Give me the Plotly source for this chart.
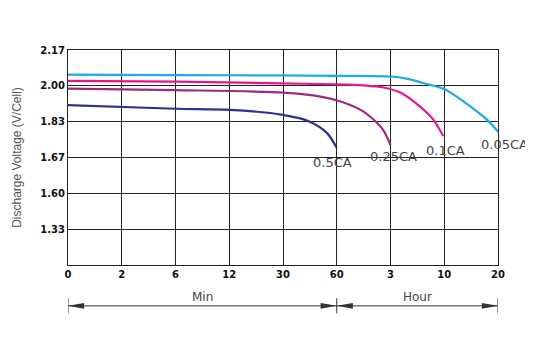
import plotly.graph_objects as go

# Axis tick labels (evenly spaced positions on both axes)
x_tick_labels = ["0", "2", "6", "12", "30", "60", "3", "10", "20"]
y_tick_labels = ["", "1.33", "1.60", "1.67", "1.83", "2.00", "2.17"]

# Series, in axis-position units (tick index)
x_005 = [0, 2, 4, 5, 6, 6.3, 6.6, 7.0, 7.4, 7.8, 8.0]
y_005 = [5.31, 5.30, 5.29, 5.28, 5.26, 5.20, 5.08, 4.91, 4.52, 4.05, 3.72]

x_010 = [0, 2, 3.94, 5, 5.5, 5.85, 6.2, 6.55, 6.8, 6.98]
y_010 = [5.14, 5.12, 5.07, 5.04, 5.01, 4.96, 4.80, 4.42, 4.05, 3.60]

x_025 = [0, 2, 4, 4.7, 5.1, 5.5, 5.85, 6.0]
y_025 = [4.92, 4.88, 4.81, 4.70, 4.55, 4.28, 3.80, 3.35]

x_050 = [0, 2, 3.01, 4, 4.5, 4.82, 5.0]
y_050 = [4.46, 4.36, 4.33, 4.19, 4.0, 3.68, 3.27]

series_names = ["0.05CA", "0.1CA", "0.25CA", "0.5CA"]
series_colors = ["#1aace6", "#e8168a", "#9c2a84", "#2e3192"]
series_x = [x_005, x_010, x_025, x_050]
series_y = [y_005, y_010, y_025, y_050]
label_pos = [(8.13, 3.35), (7.02, 3.2), (6.05, 3.02), (4.92, 2.86)]

fig = go.Figure()
for xs, ys, c, n in zip(series_x, series_y, series_colors, series_names):
    fig.add_trace(go.Scatter(x=xs, y=ys, mode="lines", name=n,
                             line=dict(color=c, width=2.2, shape="spline", smoothing=0.8),
                             showlegend=False, hoverinfo="skip"))

for n, (lx, ly) in zip(series_names, label_pos):
    fig.add_annotation(x=lx / 8, y=ly / 6, xref="paper", yref="paper", text=n, showarrow=False,
                       xanchor="center", yanchor="middle",
                       font=dict(family="DejaVu Sans", size=13, color="#444444"))

tickfont = dict(family="DejaVu Sans", size=10, color="#111111", weight="bold")
fig.update_xaxes(range=[0, 8], tickmode="array", tickvals=list(range(9)), automargin=False,
                 ticktext=x_tick_labels, showgrid=True, gridcolor="#222222", gridwidth=1,
                 showline=True, linecolor="#222222", linewidth=1, mirror=True,
                 zeroline=False, ticks="", tickfont=tickfont)
fig.update_yaxes(range=[0, 6], tickmode="array", tickvals=list(range(7)), automargin=False,
                 ticktext=y_tick_labels, showgrid=True, gridcolor="#222222", gridwidth=1,
                 showline=True, linecolor="#222222", linewidth=1, mirror=True,
                 zeroline=False, ticks="", tickfont=tickfont,
                 title=dict(text="Discharge Voltage (V/Cell)", standoff=16,
                            font=dict(family="Liberation Sans", size=12, color="#555555")))

# Min / Hour arrows below the axis
ya = -0.19
shapes = []
shapes.append(dict(type="line", xref="x", yref="paper", x0=0, x1=8, y0=ya, y1=ya,
                   line=dict(color="#333333", width=1)))
for xv in [0, 5, 8]:
    shapes.append(dict(type="line", xref="x", yref="paper", x0=xv, x1=xv, y0=ya - 0.035, y1=ya + 0.035,
                       line=dict(color="#333333", width=1)))
h = 0.013
L = 0.3
for tip, d in [(0, 1), (5, -1), (5, 1), (8, -1)]:
    b = tip + d * L
    shapes.append(dict(type="path", xref="x", yref="paper",
                       path=f"M {tip},{ya} L {b},{ya + h} L {b},{ya - h} Z",
                       fillcolor="#333333", line=dict(width=0)))
fig.update_layout(shapes=shapes)
fig.add_annotation(x=2.5, y=ya + 0.042, xref="x", yref="paper", text="Min", showarrow=False,
                   yanchor="middle",
                   font=dict(family="DejaVu Sans", size=12, color="#444444"))
fig.add_annotation(x=6.5, y=ya + 0.042, xref="x", yref="paper", text="Hour", showarrow=False,
                   yanchor="middle",
                   font=dict(family="DejaVu Sans", size=12, color="#444444"))

# page body has an 8px margin, so the figure is drawn 8px smaller and offset
fig.update_layout(width=525, height=353, margin=dict(l=60, r=35, t=42, b=96),
                  plot_bgcolor="white", paper_bgcolor="white")
fig.write_html("out.html")
